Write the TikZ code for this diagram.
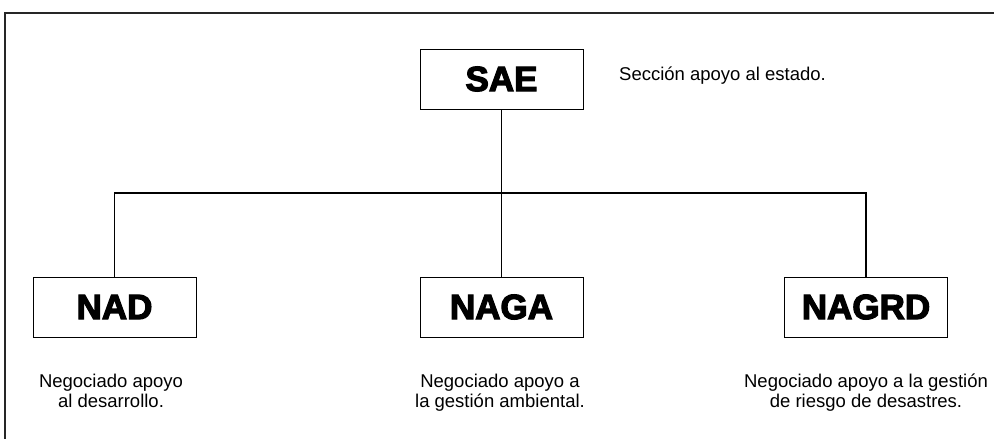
\documentclass[tikz,border=0pt]{standalone}
\usepackage{fontspec}
\setmainfont{Liberation Sans}
\newfontfamily\heavy[FakeBold=3.5]{Liberation Sans Bold}
\begin{document}
\begin{tikzpicture}[x=1pt,y=-1pt,
  unit/.style={draw=black, line width=1pt, minimum width=163pt, minimum height=60pt, inner sep=0pt, font=\heavy\fontsize{35}{35}\selectfont},
  desc/.style={align=center, inner sep=0pt, font=\fontsize{18.5}{20}\selectfont},
  link/.style={line width=1.8pt}]
\useasboundingbox (0,0) rectangle (994,439);
\fill[white] (0,0) rectangle (994,439);
\draw[line width=1.6pt, draw=black!85] (5,445) -- (5,13) -- (1000,13);
\node[unit] (sae) at (501.5,79) {SAE};
\node[unit] (nad) at (114.5,307) {NAD};
\node[unit] (naga) at (501.5,307) {NAGA};
\node[unit] (nagrd) at (866,307) {NAGRD};
\coordinate (jl) at (114.5,193);
\coordinate (jr) at (866,193);
\draw[link] (sae.south) -- (naga.north);
\draw[link] (nad.north) -- (jl) -- (jr) -- (nagrd.north);
\node[desc, anchor=base west] (saed) at (619,80) {Sección apoyo al estado.};
\node[desc, anchor=north] (nadd) at (111,374) {Negociado apoyo\\al desarrollo.};
\node[desc, anchor=north] (nagad) at (500,374) {Negociado apoyo a\\la gestión ambiental.};
\node[desc, anchor=north] (nagrdd) at (866,374) {Negociado apoyo a la gestión\\de riesgo de desastres.};
\end{tikzpicture}
\end{document}
